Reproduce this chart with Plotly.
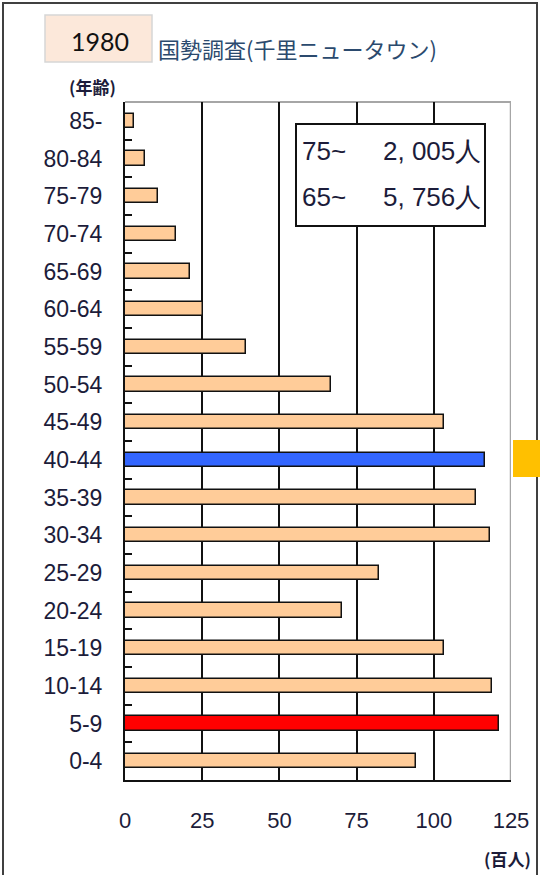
import plotly.graph_objects as go

# Population by 5-year age group, in hundreds of people (bottom row first)
age_groups = ["0-4", "5-9", "10-14", "15-19", "20-24", "25-29", "30-34", "35-39",
              "40-44", "45-49", "50-54", "55-59", "60-64", "65-69", "70-74",
              "75-79", "80-84", "85-"]
population_hundreds = [94.3, 121.1, 118.9, 103.2, 70.4, 82.4, 118.3, 113.7,
                       116.7, 103.2, 66.7, 39.1, 25.3, 21.1, 16.4,
                       10.55, 6.6, 2.9]
highlight = {"5-9": "#ff0000", "40-44": "#3366ff"}
base_color = "#ffcc99"

x_ticks = [0, 25, 50, 75, 100, 125]

year_label = "1980"
title_text = "国勢調査(千里ニュータウン)"
summary_ages = ["75~", "65~"]
summary_counts = ["2, 005人", "5, 756人"]
y_unit = "(年齢)"
x_unit = "(百人)"

W, H = 540, 875


def px(x):
    return x / W


def py(y):
    return 1 - y / H


bar_colors = [highlight.get(a, base_color) for a in age_groups]

LABEL_FONT = "Liberation Sans, Arial, sans-serif"
TEXT_COLOR = "#1c1c3a"

fig = go.Figure(
    go.Bar(
        x=population_hundreds,
        y=age_groups,
        orientation="h",
        width=0.38,
        marker=dict(color=bar_colors, line=dict(color="#111111", width=1.5)),
        hoverinfo="x+y",
    )
)

plot_left, plot_right, plot_top, plot_bottom = 125, 511, 102, 780

fig.update_layout(
    width=W,
    height=H,
    autosize=False,
    margin=dict(l=0, r=0, t=0, b=0, pad=0),
    paper_bgcolor="white",
    plot_bgcolor="white",
    showlegend=False,
    bargap=0,
    xaxis=dict(
        domain=[px(plot_left), px(plot_right)],
        range=[0, 125],
        tickvals=x_ticks,
        ticktext=[str(v) for v in x_ticks],
        showgrid=True,
        gridcolor="#111111",
        gridwidth=1.5,
        zeroline=False,
        showline=True,
        linecolor="#111111",
        linewidth=2,
        ticks="",
        ticklabelstandoff=20,
        tickfont=dict(family=LABEL_FONT, size=22, color=TEXT_COLOR),
        automargin=False,
        fixedrange=True,
    ),
    yaxis=dict(
        domain=[py(plot_bottom), py(plot_top)],
        type="category",
        categoryorder="array",
        categoryarray=age_groups,
        range=[-0.5, len(age_groups) - 0.5],
        showgrid=False,
        zeroline=False,
        showline=True,
        linecolor="#111111",
        linewidth=2,
        ticks="inside",
        tickson="boundaries",
        ticklen=7,
        tickwidth=1.5,
        tickcolor="#111111",
        ticklabelstandoff=16,
        tickfont=dict(family=LABEL_FONT, size=23, color=TEXT_COLOR),
        automargin=False,
        fixedrange=True,
    ),
)

shapes = [
    # outer frame
    dict(type="rect", xref="paper", yref="paper",
         x0=px(3), x1=px(537), y0=-0.02, y1=py(3),
         line=dict(color="#404040", width=2), fillcolor="rgba(0,0,0,0)", layer="below"),
    # grey top and right borders of the plot area
    dict(type="line", xref="paper", yref="paper",
         x0=px(plot_left), x1=px(plot_right), y0=py(plot_top), y1=py(plot_top),
         line=dict(color="#a6a6a6", width=2), layer="below"),
    dict(type="line", xref="x", yref="paper",
         x0=125, x1=125, y0=py(plot_bottom), y1=py(plot_top),
         line=dict(color="#a6a6a6", width=2.5), layer="above"),
    # year badge
    dict(type="rect", xref="paper", yref="paper",
         x0=px(45), x1=px(152), y0=py(62), y1=py(15),
         line=dict(color="#d6d6d6", width=1.5), fillcolor="#fce8da"),
    # summary box
    dict(type="rect", xref="paper", yref="paper",
         x0=px(296), x1=px(485), y0=py(226), y1=py(124),
         line=dict(color="#111111", width=2), fillcolor="white", layer="above"),
    # side marker
    dict(type="rect", xref="paper", yref="paper",
         x0=px(513), x1=px(540), y0=py(477), y1=py(440),
         line=dict(width=0), fillcolor="#ffc000"),
]
fig.update_layout(shapes=shapes)

annotations = [
    dict(text=year_label, x=px(100), y=py(41), xref="paper", yref="paper",
         xanchor="center", yanchor="middle", showarrow=False,
         font=dict(family="Lato, Open Sans, sans-serif", size=25, color="#111111")),
    dict(text=title_text, x=px(156), y=py(48), xref="paper", yref="paper",
         xanchor="left", yanchor="middle", showarrow=False,
         font=dict(family="Noto Sans CJK JP", size=22, color="#2b4a6e")),
    dict(text="<b>" + y_unit + "</b>", x=px(92), y=py(86), xref="paper", yref="paper",
         xanchor="center", yanchor="middle", showarrow=False,
         font=dict(family="Noto Sans CJK JP", size=17, color=TEXT_COLOR)),
    dict(text="<b>" + x_unit + "</b>", x=px(507), y=py(858), xref="paper", yref="paper",
         xanchor="center", yanchor="middle", showarrow=False,
         font=dict(family="Noto Sans CJK JP", size=17, color=TEXT_COLOR)),
]
row_y = [151, 197]
for label, count, yy in zip(summary_ages, summary_counts, row_y):
    annotations.append(dict(text=label, x=px(300), y=py(yy), xref="paper", yref="paper",
                            xanchor="left", yanchor="middle", showarrow=False,
                            font=dict(family=LABEL_FONT, size=26, color=TEXT_COLOR)))
    annotations.append(dict(text=count, x=px(483), y=py(yy), xref="paper", yref="paper",
                            xanchor="right", yanchor="middle", showarrow=False,
                            font=dict(family=LABEL_FONT, size=26, color=TEXT_COLOR)))
fig.update_layout(annotations=annotations)

fig.write_html("out.html", config={"displayModeBar": False})
